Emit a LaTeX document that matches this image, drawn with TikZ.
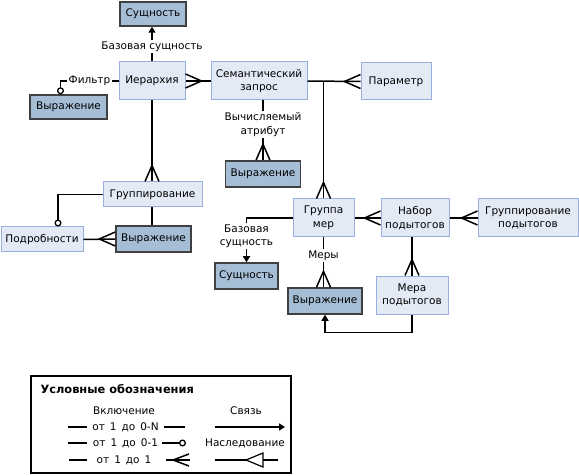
\documentclass[tikz,border=0pt]{standalone}
\usepackage{fontspec}
\setmainfont{DejaVu Sans}
\usetikzlibrary{arrows.meta, positioning}
\definecolor{entfill}{RGB}{227,234,246}
\definecolor{entline}{RGB}{150,175,220}
\definecolor{exprfill}{RGB}{166,190,213}
\definecolor{exprline}{RGB}{64,64,64}
\newcommand\legspace{\spaceskip=5pt plus 1pt\relax}
\tikzset{
  ent/.style = {draw=entline, fill=entfill, line width=1pt, align=center, inner sep=0pt,
    font=\fontsize{10.5}{13.5}\selectfont},
  expr/.style = {ent, draw=exprline, fill=exprfill, line width=1.5pt,
    minimum width=75pt, minimum height=26pt},
  conn/.style = {line width=1.5pt},
  lbl/.style = {fill=white, inner sep=1.5pt, align=center, font=\fontsize{10.5}{13.5}\selectfont},
  legrow/.style = {lbl, font=\fontsize{10.5}{13.5}\selectfont\legspace},
  tip/.style = {-{Triangle[length=6pt, width=7pt]}},
  opt/.style = {-{Circle[length=7pt, fill=white, line width=1.3pt]}},
  crow/.pic = {\draw[conn] (0pt,7pt) -- (16pt,0pt) -- (0pt,-7pt);}
}

\begin{document}
\begin{tikzpicture}[x=1pt, y=-1pt]
  \useasboundingbox (0,0) rectangle (579,476);

  %% Semantic query model

  % Top row
  \node[expr, minimum width=66pt, minimum height=24pt] (ent1) at (153,14) {Сущность};
  \node[ent, minimum width=66pt, minimum height=38pt] (hier) at (152,81) {Иерархия};
  \node[ent, minimum width=96pt, minimum height=38pt] (semq) at (259,81) {Семантический\\запрос};
  \node[ent, minimum width=70pt, minimum height=37pt] (param) at (396,81.5) {Параметр};
  \node[expr, minimum width=77pt, minimum height=24pt] (exprF) at (68.5,107) {Выражение};
  \node[expr] (exprC) at (263,174) {Выражение};

  % Grouping
  \node[ent, minimum width=99pt, minimum height=25pt] (grp) at (152.5,194.5) {Группирование};
  \node[ent, minimum width=82pt, minimum height=25pt] (detail) at (42,239.5) {Подробности};
  \node[expr] (exprG) at (153.5,239) {Выражение};

  % Measures
  \node[ent, minimum width=61pt, minimum height=38pt] (mgrp) at (323.5,218) {Группа\\мер};
  \node[ent, minimum width=68pt, minimum height=38pt] (tset) at (415,218) {Набор\\подытогов};
  \node[ent, minimum width=100pt, minimum height=38pt] (tgrp) at (528,218) {Группирование\\подытогов};
  \node[expr, minimum width=63pt] (ent2) at (246.5,276) {Сущность};
  \node[expr, minimum width=74pt] (exprM) at (325,301) {Выражение};
  \node[ent, minimum width=72pt, minimum height=38pt] (tmeas) at (412,295) {Мера\\подытогов};

  % Connectors
  \draw[conn, tip] (hier.north) -- (hier.north |- ent1.south)
    node[lbl, pos=0.42] {Базовая сущность};
  \draw[conn, opt] (hier.west) -| ([xshift=-8pt]exprF.north)
    node[lbl, pos=0.25] {Фильтр};
  \draw[conn] (hier.east) -- (semq.west);
  \pic at (hier.east) {crow};
  \draw[conn] (semq.east) -- (param.west);
  \pic[rotate=180] at (param.west) {crow};
  \draw[conn] (mgrp.north |- semq.east) -- (mgrp.north);
  \pic[rotate=90] at (mgrp.north) {crow};
  \draw[conn] (exprC.north |- semq.south) -- (exprC.north)
    node[lbl, pos=0.4] {Вычисляемый\\атрибут};
  \pic[rotate=90] at (exprC.north) {crow};

  \draw[conn] (hier.south) -- (hier.south |- grp.north);
  \pic[rotate=90] at (hier.south |- grp.north) {crow};
  \draw[conn, opt] (grp.west) -| ([xshift=16pt]detail.north);
  \draw[conn] (grp.south -| hier.south) -- (hier.south |- exprG.north);
  \draw[conn] (detail.east) -- (exprG.west);
  \pic[rotate=180] at (exprG.west) {crow};

  \draw[conn] (mgrp.east) -- (tset.west);
  \pic[rotate=180] at (tset.west) {crow};
  \draw[conn] (tset.east) -- (tgrp.west);
  \pic[rotate=180] at (tgrp.west) {crow};
  \draw[conn] (tmeas.north |- tset.south) -- (tmeas.north);
  \pic[rotate=90] at (tmeas.north) {crow};
  \draw[conn, tip] (mgrp.west) -| (ent2.north)
    node[lbl, pos=0.705] {Базовая\\сущность};
  \draw[conn] (mgrp.south) -- (mgrp.south |- exprM.north)
    node[lbl, pos=0.37] {Меры};
  \pic[rotate=90] at (mgrp.south |- exprM.north) {crow};
  \draw[conn, tip] (tmeas.south) -- ++(0,18) -| (exprM.south);

  %% Legend
  \draw[line width=1.2pt] (31,376) rectangle (291,473);
  \node[anchor=west, font=\bfseries\fontsize{11.4}{13}\selectfont] (legtitle) at (37,389) {Условные обозначения};
  \node[lbl] (incl) at (124,411) {Включение};
  \node[lbl] (link) at (246,411) {Связь};

  % 1 to 0-N
  \node[legrow] (many) at (125.5,427) {от 1 до 0-N};
  \draw[conn] (68,427) -- (87,427);
  \draw[conn] (164,427) -- (185,427);
  \draw[conn, tip] (215,427) -- (285,427);

  % 1 to 0-1
  \node[legrow] (zeroone) at (125.5,443) {от 1 до 0-1};
  \node[lbl] (inherit) at (245,443) {Наследование};
  \draw[conn] (68,443) -- (87,443);
  \draw[conn, opt] (162,443) -- (186,443);

  % 1 to 1
  \node[legrow] (oneone) at (124,460) {от 1 до 1};
  \draw[conn] (69,460) -- (87,460);
  \draw[conn] (166,460) -- (190,460);
  \draw[conn] (189,454) -- (173,460) -- (189,466);
  \draw[conn] (215,460) -- (278,460);
  \draw[line width=1.2pt, fill=white] (246,460) -- (263,453) -- (263,467) -- cycle;

\end{tikzpicture}
\end{document}
